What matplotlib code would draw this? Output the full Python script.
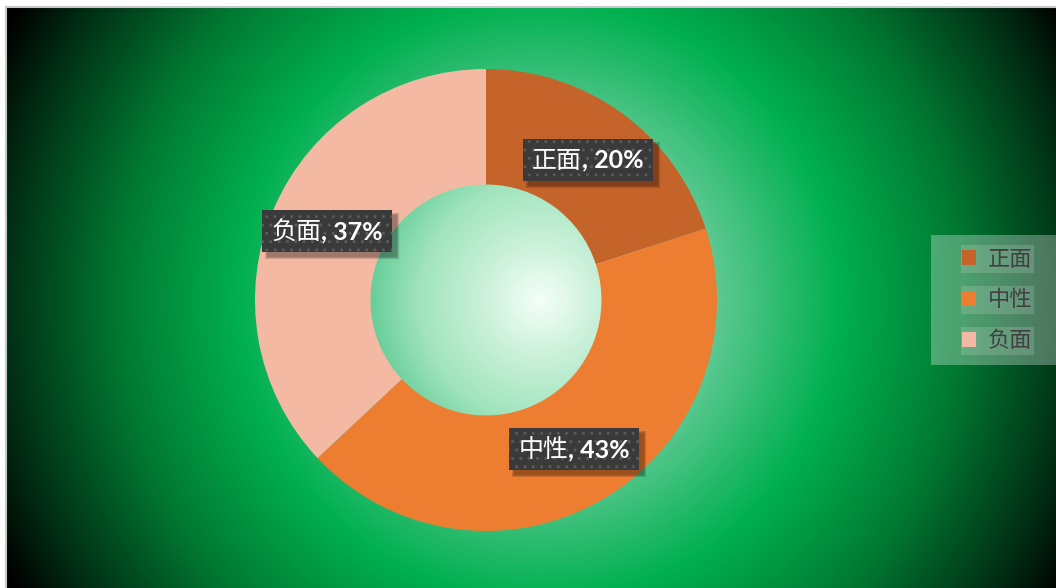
import numpy as np
import matplotlib.pyplot as plt
from matplotlib.colors import LinearSegmentedColormap
from matplotlib.patches import Rectangle, Patch
from matplotlib.lines import Line2D

plt.rcParams['font.family'] = ['Noto Sans CJK SC', 'DejaVu Sans']
plt.rcParams['hatch.color'] = '#5a5a5a'
plt.rcParams['hatch.linewidth'] = 1.0

# data
labels = ['正面', '中性', '负面']
values = [20, 43, 37]
colors = ['#C4632A', '#ED7D31', '#F4B9A3']

W, H = 1056, 588
fig = plt.figure(figsize=(W / 100, H / 100), dpi=100, facecolor='white')

# plot area, one data unit = one pixel (y from the bottom)
x0, top = 7, 580
ax = fig.add_axes([x0 / W, 0, (W - x0) / W, top / H])

# radial green background
bg_c = (540, H - 300)
xs = np.arange(x0, W) + 0.5
ys = np.arange(0, top) + 0.5
X, Y = np.meshgrid(xs, ys)
d = np.hypot(X - bg_c[0], Y - bg_c[1]) / 600
bg_cmap = LinearSegmentedColormap.from_list('bg', [
    (0.0, '#f4fff8'), (0.1, '#c8f0d8'), (0.2, '#a0e4bd'), (0.3, '#5ac890'),
    (0.5, '#00b050'), (0.7, '#007a32'), (0.89, '#003015'), (1.0, '#000000')])
ax.imshow(bg_cmap(np.clip(d, 0, 1)), extent=(x0, W, 0, top), origin='lower',
          zorder=0, interpolation='bilinear')

# donut
center = (486, H - 300)
R = 231
ax.pie(values, colors=colors, startangle=90, counterclock=False, radius=R,
       center=center, wedgeprops=dict(width=R / 2, linewidth=0))
ax.set_xlim(x0, W)
ax.set_ylim(0, top)
ax.set_aspect('auto')
ax.axis('off')

# data labels in dark boxes
renderer = fig.canvas.get_renderer()
total = sum(values)
ang = 90
for name, v in zip(labels, values):
    mid = np.deg2rad(ang - v / total * 180)
    ang -= v / total * 360
    lx = center[0] + 0.75 * R * np.cos(mid)
    ly = center[1] + 0.75 * R * np.sin(mid)
    t1 = ax.text(lx, ly - 8, name, fontsize=18, color='white', va='baseline', ha='left', zorder=6)
    t2 = ax.text(lx, ly - 8, f', {v}%', fontsize=18, fontweight='bold', family=['Lato', 'DejaVu Sans'],
                 color='white', va='baseline', ha='left', zorder=6)
    w1 = t1.get_window_extent(renderer).width
    w2 = t2.get_window_extent(renderer).width
    left = lx - (w1 + w2) / 2
    t1.set_x(left)
    t2.set_x(left + w1)
    bw, bh = w1 + w2 + 18, 42
    for k, a in enumerate([0.12, 0.12, 0.15]):
        ax.add_patch(Rectangle((left - 9 + 5 - k, ly - 21 - 5 - k), bw + 2 * k, bh + 2 * k,
                               facecolor='black', alpha=a, linewidth=0, zorder=4))
    ax.add_patch(Rectangle((left - 9, ly - 21), bw, bh, facecolor='#3a3a3a', hatch='..',
                           linewidth=0, zorder=5))

# legend: translucent panel on the right edge
ax.add_patch(Rectangle((931, H - 365), W - 931, 130, facecolor='white', alpha=0.3,
                       linewidth=0, zorder=3))
handles = [Patch(facecolor=c, label=l) for c, l in zip(colors, labels)]
leg = ax.legend(handles=handles, loc='center left', bbox_to_anchor=(962, H - 300),
                bbox_transform=ax.transData, fontsize=16, handlelength=0.65, handleheight=0.65,
                handletextpad=0.5, labelspacing=0.8, borderpad=0, borderaxespad=0,
                frameon=False)
leg.set_zorder(7)
for t in leg.get_texts():
    t.set_color('#404040')

# faint highlight behind each legend entry
fig.canvas.draw()
inv = ax.transData.inverted()
for t in leg.get_texts():
    bb = t.get_window_extent(renderer).transformed(inv)
    ymid = (bb.y0 + bb.y1) / 2
    ax.add_patch(Rectangle((961, ymid - 14), bb.x1 - 961 + 2, 28, facecolor='white',
                           alpha=0.15, linewidth=0, zorder=4))

# thin grey border of the chart area
fig.add_artist(Line2D([6 / W, 1], [1 - 7 / H, 1 - 7 / H], transform=fig.transFigure,
                      color='#c8c8c8', lw=1.5))
fig.add_artist(Line2D([6 / W, 6 / W], [0, 1 - 7 / H], transform=fig.transFigure,
                      color='#c8c8c8', lw=1.5))

fig.savefig('out.png', dpi=100, facecolor='white')
